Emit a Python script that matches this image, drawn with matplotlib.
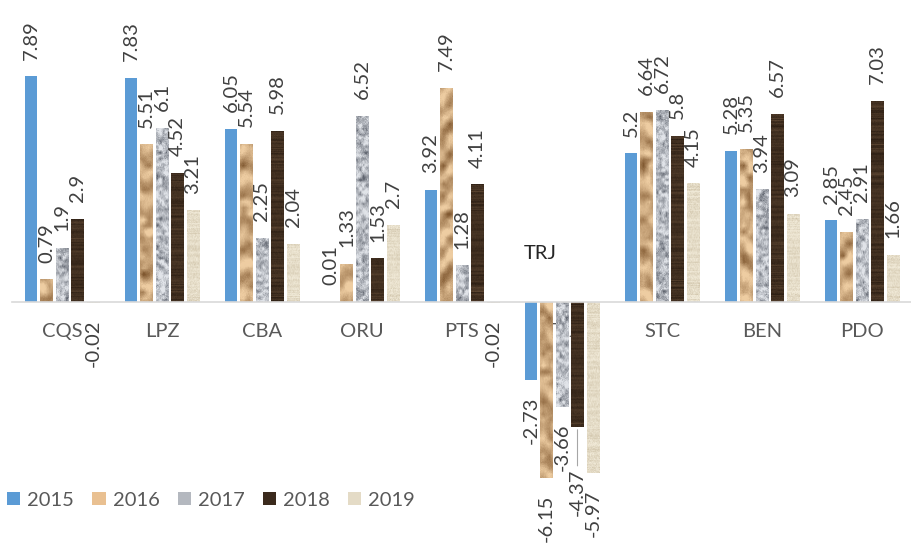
# Variação anual por departamento (2015-2019)

import numpy as np
import matplotlib.pyplot as plt
from matplotlib.patches import Patch

categorias = ['CQS', 'LPZ', 'CBA', 'ORU', 'PTS', 'TRJ', 'STC', 'BEN', 'PDO']
anos = ['2015', '2016', '2017', '2018', '2019']
v2015 = [7.89, 7.83, 6.05, 0.01, 3.92, -2.73, 5.2, 5.28, 2.85]
v2016 = [0.79, 5.51, 5.54, 1.33, 7.49, -6.15, 6.64, 5.35, 2.45]
v2017 = [1.9, 6.1, 2.25, 6.52, 1.28, -3.66, 6.72, 3.94, 2.91]
v2018 = [2.9, 4.52, 5.98, 1.53, 4.11, -4.37, 5.8, 6.57, 7.03]
v2019 = [-0.02, 3.21, 2.04, 2.7, -0.02, -5.97, 4.15, 3.09, 1.66]
series = [v2015, v2016, v2017, v2018, v2019]

plt.rcParams['font.family'] = ['Lato', 'DejaVu Sans']

rng = np.random.default_rng(11)


def mistura(t, claro, escuro):
    t = np.clip(t, 0, 1)[..., None]
    return (np.array(claro) * (1 - t) + np.array(escuro) * t) / 255


def suave(h, w, passo):
    # ruído de baixa resolução ampliado + média móvel simples
    hh, ww = h // passo + 2, w // passo + 2
    base = rng.standard_normal((hh, ww))
    grande = np.repeat(np.repeat(base, passo, 0), passo, 1)[:h, :w]
    k = np.ones(passo) / passo
    grande = np.apply_along_axis(lambda r: np.convolve(r, k, 'same'), 0, grande)
    grande = np.apply_along_axis(lambda r: np.convolve(r, k, 'same'), 1, grande)
    return grande


def textura_papel(h, w):
    yy = np.arange(h)[:, None]
    xx = np.arange(w)[None, :]
    fase = rng.uniform(0, 6)
    ondas = np.sin(yy / 4.5 + np.sin(xx / 5.0 + fase) * 1.6 + fase)
    t = 0.32 + 0.20 * ondas + 0.22 * suave(h, w, 6) + 0.03 * rng.standard_normal((h, w))
    return mistura(t, (238, 205, 162), (128, 88, 48))


def textura_granito(h, w):
    t = 0.33 + 0.28 * suave(h, w, 3) + 0.10 * rng.standard_normal((h, w))
    return mistura(t, (225, 228, 233), (95, 100, 110))


def textura_madeira(h, w):
    linhas = rng.standard_normal((h, 1))
    t = 0.72 + 0.12 * linhas + 0.04 * rng.standard_normal((h, w))
    return mistura(t, (115, 88, 64), (45, 31, 20))


def textura_lona(h, w):
    linhas = rng.standard_normal((h, 1))
    t = 0.22 + 0.10 * linhas + 0.10 * rng.standard_normal((h, w))
    return mistura(t, (240, 233, 215), (190, 175, 145))


cores = ['#5B9BD5', '#E9C091', '#B4B8BF', '#3B2A1D', '#E4DBC6']
texturas = [None, textura_papel, textura_granito, textura_madeira, textura_lona]

px_por_unidade = 28.6
fig = plt.figure(figsize=(9.11, 5.43), dpi=100)
ax = fig.add_axes([12 / 911, 0, 900 / 911, 1])
ax.set_axisbelow(True)

x = np.arange(len(categorias))
largura = 0.125
passo = 0.155

for i, (ano, valores) in enumerate(zip(anos, series)):
    barras = ax.bar(x + (i - 2) * passo, valores, largura, color=cores[i], zorder=2, label=ano)
    if texturas[i] is not None:
        for b in barras:
            x0, w = b.get_x(), b.get_width()
            y0, hgt = b.get_y(), b.get_height()
            hp = max(int(abs(hgt) * px_por_unidade), 2)
            img = texturas[i](hp, 13)
            im = ax.imshow(img, extent=(x0, x0 + w, min(y0, y0 + hgt), max(y0, y0 + hgt)),
                           origin='lower', aspect='auto', interpolation='bilinear', zorder=2.5)
            im.set_clip_path(b)
    rotulos = [f'{v:g}' for v in valores]
    if ano == '2018':
        # rótulo do TRJ deslocado para baixo com linha guia
        j = categorias.index('TRJ')
        rotulos[j] = ''
        ax.annotate(f'{valores[j]:g}', xy=(x[j] + (i - 2) * passo, valores[j]),
                    xytext=(0, -30), textcoords='offset points', rotation=90,
                    ha='center', va='top', fontsize=14.5, color='#404040',
                    arrowprops=dict(arrowstyle='-', color='#A6A6A6', lw=0.8,
                                    shrinkA=0, shrinkB=2))
    ax.bar_label(barras, labels=rotulos, rotation=90, padding=12,
                 fontsize=14.5, color='#404040')

ax.set_xlim(-0.5, 8.5)
ax.set_ylim(-(543 - 302) / px_por_unidade, 302 / px_por_unidade)

ax.set_xticks(x)
ax.set_xticklabels(categorias)
ax.tick_params(axis='x', length=0, pad=15, labelsize=14.5, labelcolor='#595959')
ax.tick_params(axis='y', left=False, labelleft=False)
for lado in ['top', 'right', 'left']:
    ax.spines[lado].set_visible(False)
ax.spines['bottom'].set_position(('data', 0))
ax.spines['bottom'].set_color('#D9D9D9')
ax.spines['bottom'].set_linewidth(1.2)

ax.text(4.78, 1.68, 'TRJ', ha='center', va='center', fontsize=14.5, color='#262626')

alcas = [Patch(facecolor=c) for c in cores]
fig.legend(alcas, anos, loc='center left', bbox_to_anchor=(0.008, 1 - 500 / 543), ncol=5,
           frameon=False, fontsize=14.5, labelcolor='#595959', handlelength=0.65,
           handleheight=0.65, handletextpad=0.35, columnspacing=0.9, borderaxespad=0,
           borderpad=0)

fig.savefig('out.png', dpi=100)
